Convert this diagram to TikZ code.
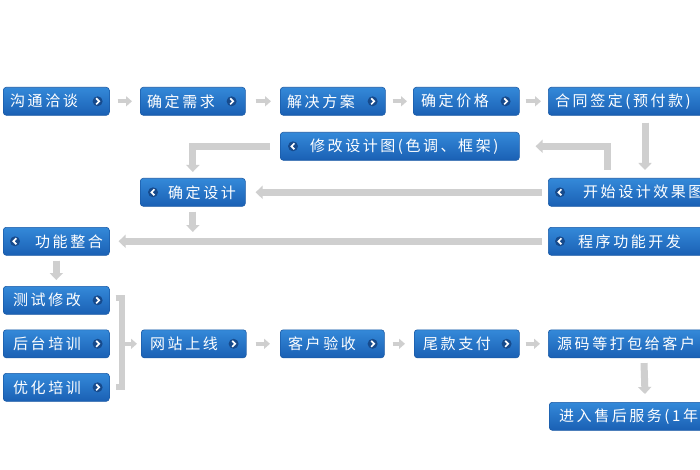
\documentclass[tikz,border=0pt]{standalone}
\usepackage{fontspec}
\newfontfamily\cjk[LetterSpace=17]{Noto Sans CJK SC}
\usetikzlibrary{arrows.meta}
\definecolor{boxtop}{HTML}{3489D9}
\definecolor{boxbot}{HTML}{1A60B4}
\definecolor{boxline}{HTML}{1A5AA6}
\definecolor{chevbg}{HTML}{164A8C}
\definecolor{argray}{HTML}{CFCFCF}
\tikzset{
  box/.style={draw=boxline, line width=0.6pt, rounded corners=3pt, top color=boxtop, bottom color=boxbot, anchor=north west, minimum height=28pt, inner sep=0pt},
  txt/.style={text=white, font=\cjk\fontsize{15}{15}\selectfont, inner sep=0pt, anchor=west},
  bigarr/.style={draw=argray, line width=7pt, -{Triangle[width=13pt,length=7pt]}},
  smallarr/.style={draw=argray, line width=4pt, -{Triangle[width=10pt,length=6pt]}},
  brk/.style={draw=argray, line width=6pt},
  chevR/.pic={\fill[chevbg] (0,0) circle (5pt); \draw[white, line width=1.7pt] (-1.4,-3) -- (1.6,0) -- (-1.4,3);},
  chevL/.pic={\fill[chevbg] (0,0) circle (5pt); \draw[white, line width=1.7pt] (1.4,-3) -- (-1.6,0) -- (1.4,3);}
}
\begin{document}
\begin{tikzpicture}[x=1pt,y=-1pt]
\clip (0,0) rectangle (700,470);
\fill[white] (0,0) rectangle (700,470);
% row 1
\node[box, minimum width=106pt] (A) at (3,87) {};
\node[box, minimum width=105pt] (B) at (140,87) {};
\node[box, minimum width=105pt] (C) at (280,87) {};
\node[box, minimum width=106pt] (D) at (413,87) {};
\node[box, minimum width=170pt] (E) at (548,87) {};
% row 2
\node[box, minimum width=239pt] (F) at (280,132) {};
% row 3
\node[box, minimum width=105pt] (G) at (140,178) {};
\node[box, minimum width=170pt] (H) at (548,178) {};
% row 4
\node[box, minimum width=106pt] (I) at (3,227) {};
\node[box, minimum width=170pt] (J) at (548,227) {};
% row 5
\node[box, minimum width=106pt] (K) at (3,286) {};
\node[box, minimum width=106pt] (L) at (3,329.5) {};
\node[box, minimum width=106pt] (M) at (3,373) {};
\node[box, minimum width=105pt] (N) at (141,329.5) {};
\node[box, minimum width=104pt] (O) at (280,329.5) {};
\node[box, minimum width=105pt] (P) at (414,329.5) {};
\node[box, minimum width=170pt] (Q) at (548,329.5) {};
\node[box, minimum width=170pt] (R) at (549,402) {};
% texts
\node[txt] (tA) at ([xshift=7pt]A.west) {沟通洽谈};
\node[txt] (tB) at ([xshift=7pt]B.west) {确定需求};
\node[txt] (tC) at ([xshift=7pt]C.west) {解决方案};
\node[txt] (tD) at ([xshift=8pt]D.west) {确定价格};
\node[txt] (tE) at ([xshift=7pt]E.west) {合同签定(预付款)};
\node[txt] (tF) at ([xshift=30pt]F.west) {修改设计图(色调、框架)};
\node[txt] (tG) at ([xshift=28pt]G.west) {确定设计};
\node[txt] (tH) at ([xshift=35pt]H.west) {开始设计效果图};
\node[txt] (tI) at ([xshift=32pt]I.west) {功能整合};
\node[txt] (tJ) at ([xshift=30pt]J.west) {程序功能开发};
\node[txt] (tK) at ([xshift=10pt]K.west) {测试修改};
\node[txt] (tL) at ([xshift=10pt]L.west) {后台培训};
\node[txt] (tM) at ([xshift=10pt]M.west) {优化培训};
\node[txt] (tN) at ([xshift=9pt]N.west) {网站上线};
\node[txt] (tO) at ([xshift=8pt]O.west) {客户验收};
\node[txt] (tP) at ([xshift=9pt]P.west) {尾款支付};
\node[txt] (tQ) at ([xshift=9pt]Q.west) {源码等打包给客户};
\node[txt] (tR) at ([xshift=10pt]R.west) {进入售后服务(1年};
% chevrons
\pic at ([xshift=-12pt]A.east) {chevR};
\pic at ([xshift=-14pt]B.east) {chevR};
\pic at ([xshift=-13pt]C.east) {chevR};
\pic at ([xshift=-14pt]D.east) {chevR};
\pic at ([xshift=13pt]F.west) {chevL};
\pic at ([xshift=13pt]G.west) {chevL};
\pic at ([xshift=12pt]H.west) {chevL};
\pic at ([xshift=12pt]I.west) {chevL};
\pic at ([xshift=12pt]J.west) {chevL};
\pic at ([xshift=-12pt]K.east) {chevR};
\pic at ([xshift=-12pt]L.east) {chevR};
\pic at ([xshift=-12pt]M.east) {chevR};
\pic at ([xshift=-13pt]N.east) {chevR};
\pic at ([xshift=-12pt]O.east) {chevR};
\pic at ([xshift=-13pt]P.east) {chevR};
% small arrows row 1
\draw[smallarr] ([xshift=8pt]A.east) -- ([xshift=-8pt]B.west);
\draw[smallarr] ([xshift=10pt]B.east) -- ([xshift=-9pt]C.west);
\draw[smallarr] ([xshift=7pt]C.east) -- ([xshift=-6pt]D.west);
\draw[smallarr] ([xshift=6pt]D.east) -- ([xshift=-7pt]E.west);
% big connectors
\draw[bigarr] ([xshift=97pt,yshift=-7pt]E.south west) -- ([xshift=97pt,yshift=8pt]H.north west);
\draw[bigarr] ([xshift=59pt,yshift=8pt]H.north west) |- ([xshift=16pt]F.east);
\draw[bigarr] ([xshift=-10pt]F.west) -| ([yshift=6pt]G.north);
\draw[bigarr] ([xshift=-6pt]H.west) -- ([xshift=10pt]G.east);
\draw[bigarr] ([yshift=-5pt]G.south) -- ([yshift=-5pt]G.south |- I.north);
\draw[bigarr] ([xshift=-6pt]J.west) -- ([xshift=9pt]I.east);
\draw[bigarr] ([yshift=-5pt]I.south) -- ([yshift=6pt]K.north);
\draw[bigarr] ([xshift=96pt,yshift=-5pt]Q.south west) -- ([xshift=96pt,yshift=8pt]R.north west);
% bracket
\draw[brk] ([xshift=6pt,yshift=2.5pt]K.east) -- ([xshift=12pt,yshift=2.5pt]K.east) -- ([xshift=12pt]M.east) -- ([xshift=6pt]M.east);
\draw[smallarr] ([xshift=15pt]L.east) -- ([xshift=-4pt]N.west);
% small arrows row 5
\draw[smallarr] ([xshift=9pt]N.east) -- ([xshift=-10pt]O.west);
\draw[smallarr] ([xshift=8pt]O.east) -- ([xshift=-9pt]P.west);
\draw[smallarr] ([xshift=6pt]P.east) -- ([xshift=-8pt]Q.west);
\end{tikzpicture}
\end{document}
